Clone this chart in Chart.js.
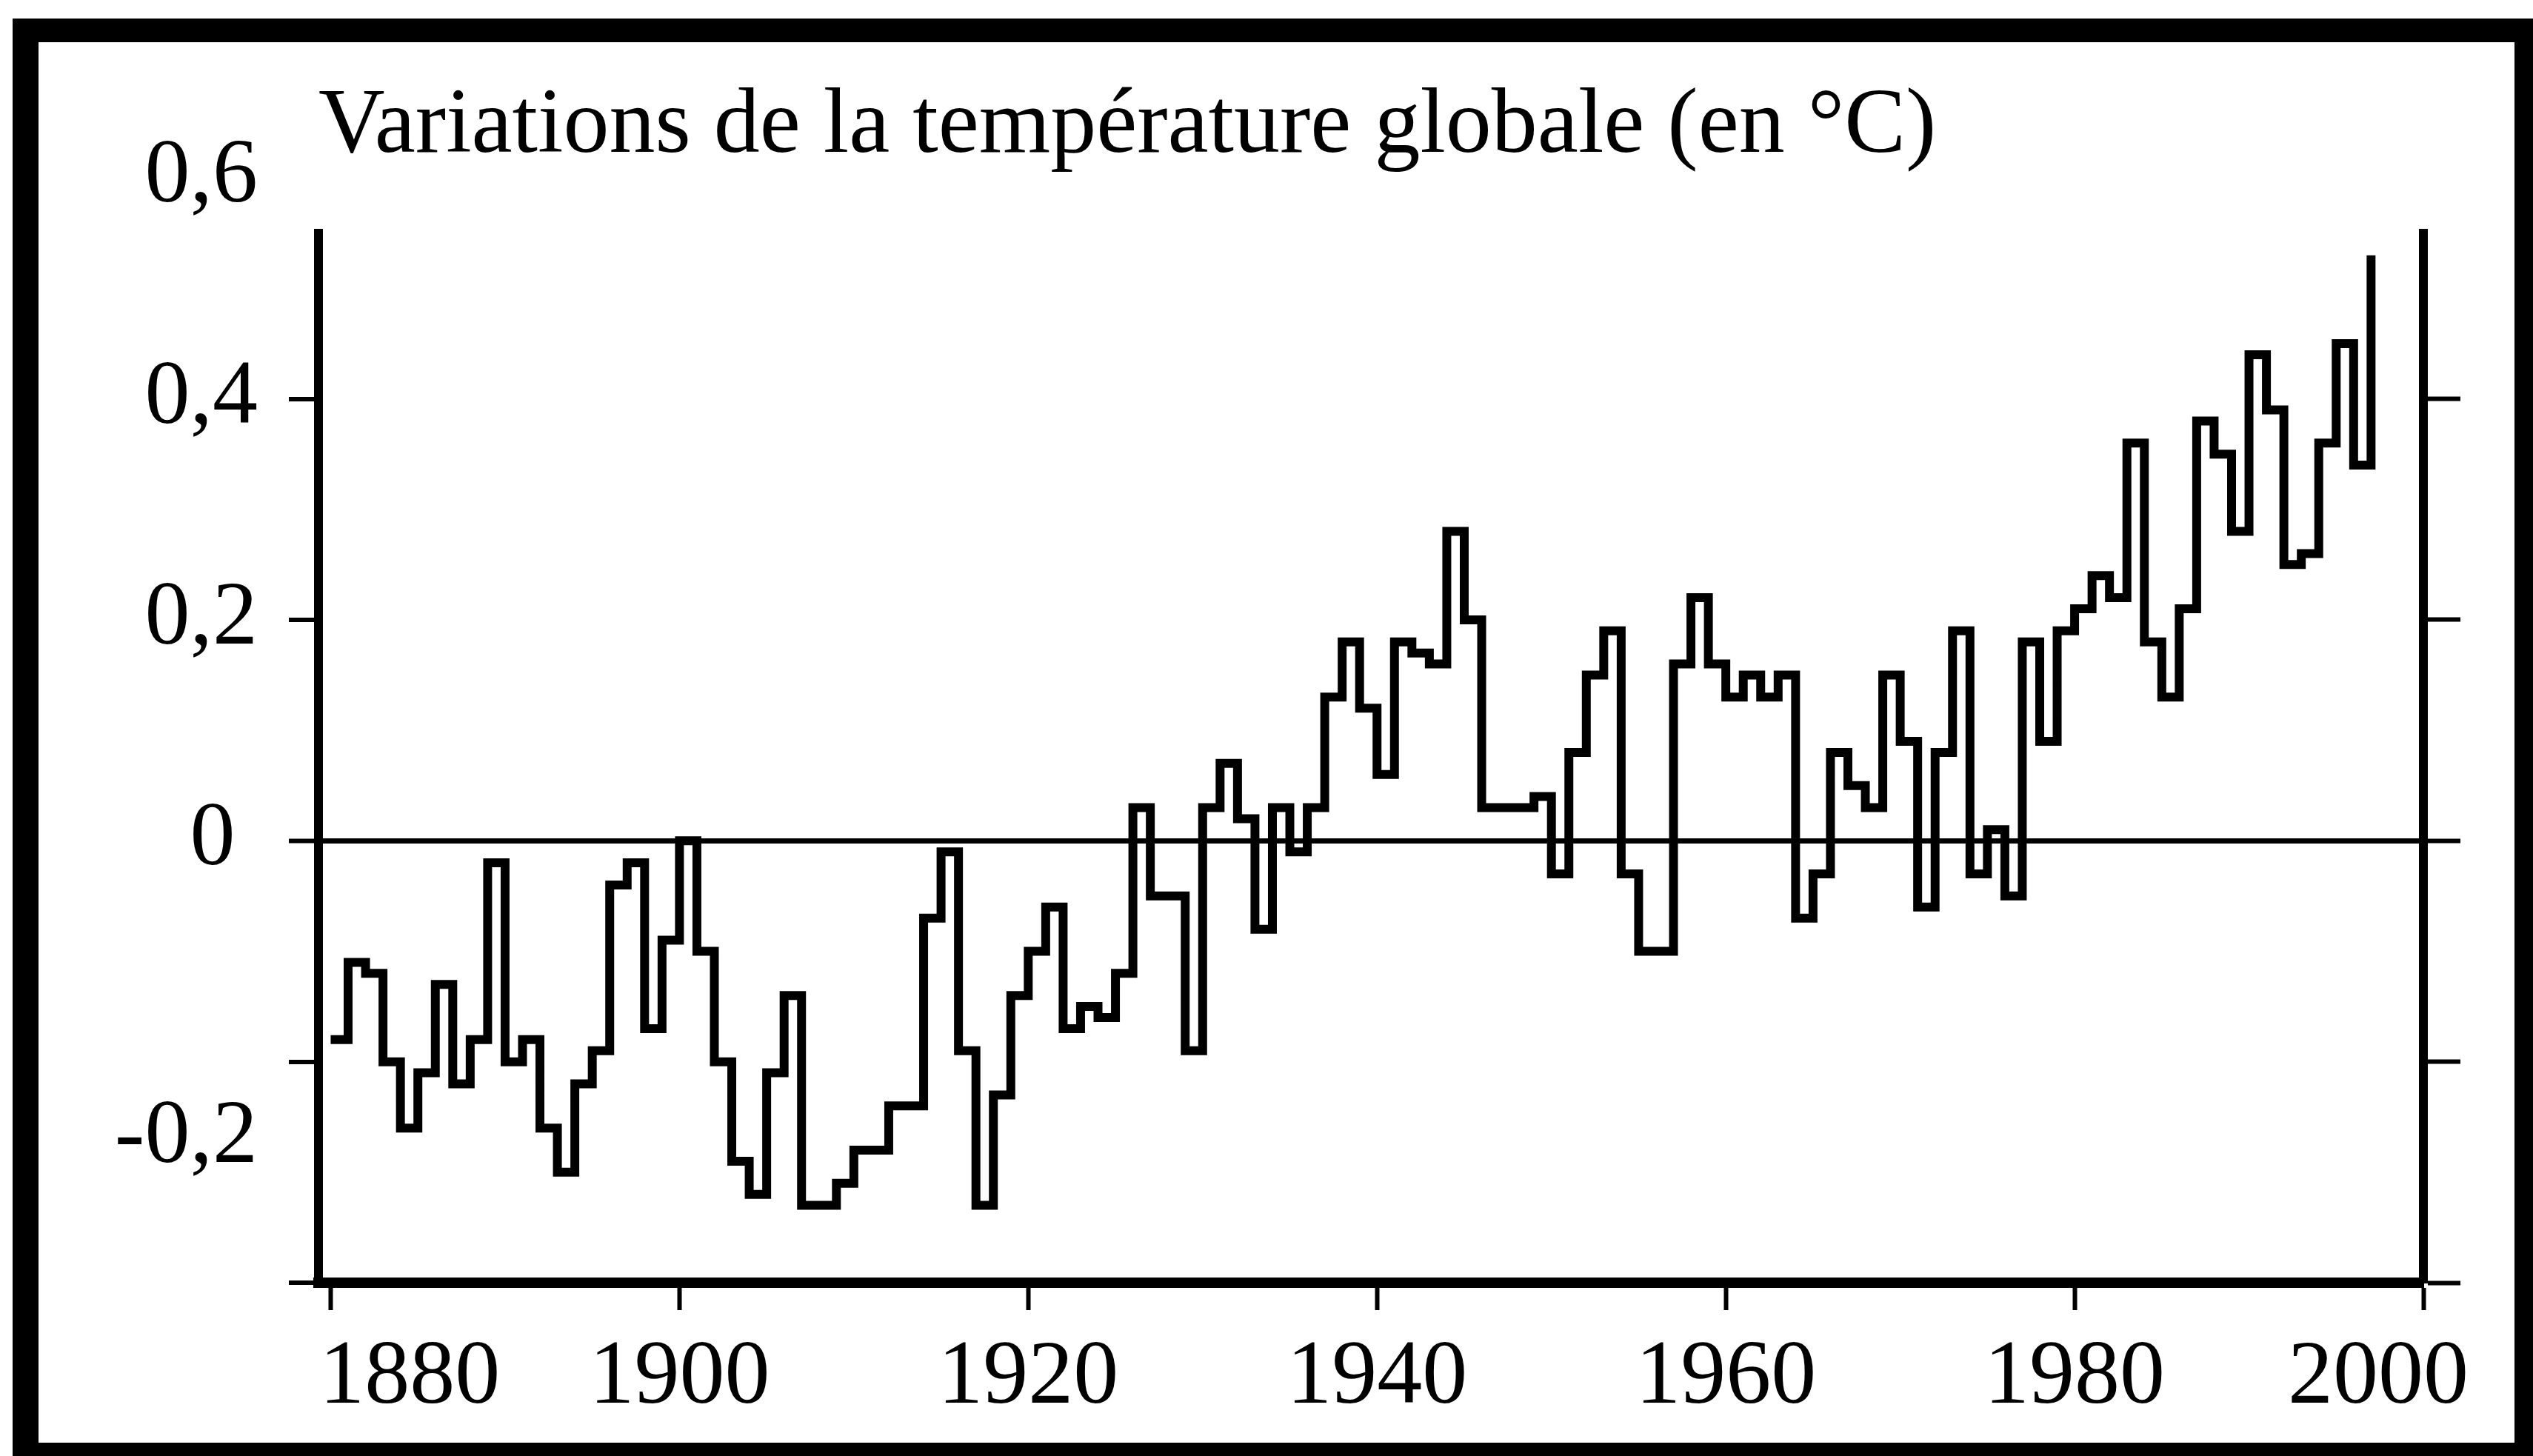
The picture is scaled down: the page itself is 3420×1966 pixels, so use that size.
<!DOCTYPE html>
<html>
<head>
<meta charset="utf-8">
<title>Variations de la température globale</title>
<script src="https://cdn.jsdelivr.net/npm/chart.js@4.4.1/dist/chart.umd.min.js"></script>
<style>
  html, body { margin: 0; padding: 0; background: #fff; }
  #wrap { position: relative; width: 3420px; height: 1966px; }
  #cadre {
    position: absolute; left: 17px; top: 25px; right: 0; bottom: 0;
    border-style: solid; border-color: #000;
    border-width: 32px 25px 18px 35px;
    pointer-events: none;
  }
</style>
</head>
<body>
<div id="wrap">
  <canvas id="grafico" width="3420" height="1966"></canvas>
  <div id="cadre"></div>
</div>
<script>
  // écarts de température, une valeur par an (1880 -> 1997)
  const premiereAnnee = 1880;
  const temperatures = [
    -0.18, -0.11, -0.12, -0.20, -0.26, -0.21, -0.13, -0.22, -0.18, -0.02,
    -0.20, -0.18, -0.26, -0.30, -0.22, -0.19, -0.04, -0.02, -0.17, -0.09,
     0.00, -0.10, -0.20, -0.29, -0.32, -0.21, -0.14, -0.33, -0.33, -0.31,
    -0.28, -0.28, -0.24, -0.24, -0.07, -0.01, -0.19, -0.33, -0.23, -0.14,
    -0.10, -0.06, -0.17, -0.15, -0.16, -0.12,  0.03, -0.05, -0.05, -0.19,
     0.03,  0.07,  0.02, -0.08,  0.03, -0.01,  0.03,  0.13,  0.18,  0.12,
     0.06,  0.18,  0.17,  0.16,  0.28,  0.20,  0.03,  0.03,  0.03,  0.04,
    -0.03,  0.08,  0.15,  0.19, -0.03, -0.10, -0.10,  0.16,  0.22,  0.16,
     0.13,  0.15,  0.13,  0.15, -0.07, -0.03,  0.08,  0.05,  0.03,  0.15,
     0.09, -0.06,  0.08,  0.19, -0.03,  0.01, -0.05,  0.18,  0.09,  0.19,
     0.21,  0.24,  0.22,  0.36,  0.18,  0.13,  0.21,  0.38,  0.35,  0.28,
     0.44,  0.39,  0.25,  0.26,  0.36,  0.45,  0.34,  0.53
  ];
  const annees = temperatures.map((t, i) => premiereAnnee + i);

  const ticksAnnees = [1880, 1900, 1920, 1940, 1960, 1980, 2000];
  const ticksGauche = [-0.4, -0.2, 0, 0.2, 0.4, 0.6];
  const ticksDroite = [-0.4, -0.2, 0, 0.2, 0.4];

  const police = "'Liberation Serif', 'Times New Roman', serif";
  const esp = '\u00A0';

  const ctx = document.getElementById('grafico');

  const grafico = new Chart(ctx, {
    type: 'line',
    data: {
      datasets: [{
        label: 'Variations de la température globale',
        data: annees.map((a, i) => ({ x: a, y: temperatures[i] })),
        stepped: true,
        borderColor: '#000',
        borderWidth: 12,
        borderJoinStyle: 'miter',
        pointRadius: 0,
        fill: false
      }]
    },
    options: {
      responsive: false,
      devicePixelRatio: 1,
      animation: false,
      layout: { padding: 0 },
      plugins: {
        legend: { display: false },
        tooltip: { enabled: false },
        title: {
          display: true,
          text: 'Variations de la température globale (en °C)',
          align: 'start',
          fullSize: false,
          color: '#000',
          font: { family: police, size: 124, weight: 'normal' },
          padding: { top: 98, bottom: 68 }
        }
      },
      scales: {
        x: {
          type: 'linear',
          position: 'bottom',
          min: 1879.3,
          max: 2000,
          afterBuildTicks: s => { s.ticks = ticksAnnees.map(v => ({ value: v })); },
          afterFit: s => { s.height = 234; s.paddingLeft = 0; s.paddingRight = 0; },
          ticks: {
            // les libellés extrêmes sont décalés vers l'intérieur sur la figure
            callback: v => {
              if (v === 1880) return esp.repeat(7) + v;
              if (v === 2000) return v + esp.repeat(4);
              return String(v);
            },
            color: '#000',
            font: { family: police, size: 122 },
            padding: 20,
            maxRotation: 0,
            autoSkip: false
          },
          grid: { drawOnChartArea: false, tickLength: 37, tickWidth: 6, tickColor: '#000' },
          border: { color: '#000', width: 14 }
        },
        y: {
          position: 'left',
          min: -0.4,
          max: 0.55,
          afterBuildTicks: s => { s.ticks = ticksGauche.map(v => ({ value: v })); },
          afterFit: s => { s.width = 430; s.paddingTop = 0; s.paddingBottom = 0; },
          ticks: {
            color: '#000',
            font: { family: police, size: 122, lineHeight: 1.7 },
            padding: 42,
            autoSkip: false,
            callback: v => {
              if (v === -0.4) return '';
              if (v === 0) return '0' + esp;
              const t = v.toFixed(1).replace('.', ',');
              // le libellé -0,2 est placé plus bas sur la figure
              return v < 0 ? ['', t] : t;
            }
          },
          grid: {
            color: c => (c.tick && c.tick.value === 0) ? '#000' : 'rgba(0,0,0,0)',
            lineWidth: c => (c.tick && c.tick.value === 0) ? 7 : 0,
            tickColor: c => (c.tick && c.tick.value > 0.5) ? 'rgba(0,0,0,0)' : '#000',
            tickWidth: 6,
            tickLength: 40
          },
          border: { color: '#000', width: 12 }
        },
        y2: {
          position: 'right',
          min: -0.4,
          max: 0.55,
          afterBuildTicks: s => { s.ticks = ticksDroite.map(v => ({ value: v })); },
          afterFit: s => { s.width = 148; },
          ticks: { display: false },
          grid: { drawOnChartArea: false, tickLength: 50, tickWidth: 6, tickColor: '#000' },
          border: { color: '#000', width: 12 }
        }
      }
    }
  });
</script>
</body>
</html>
